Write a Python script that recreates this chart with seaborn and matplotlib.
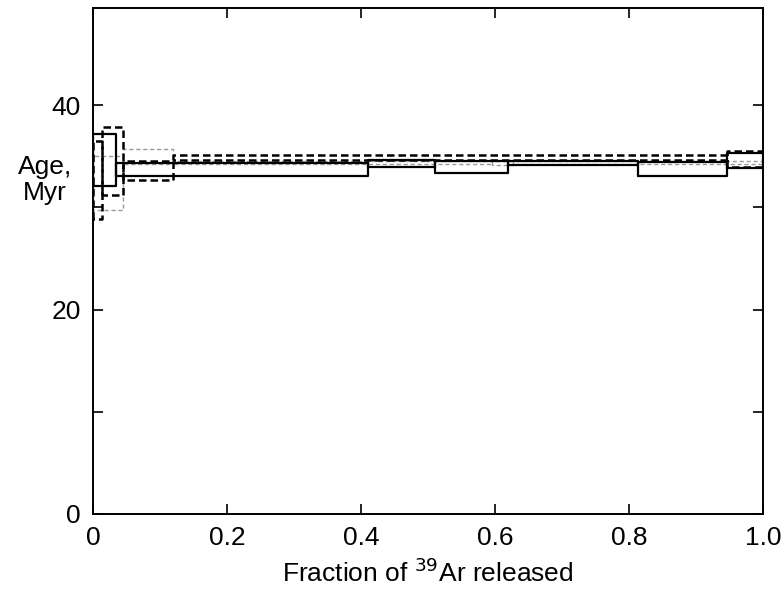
import numpy as np
import pandas as pd
import matplotlib
matplotlib.use("Agg")
import matplotlib.pyplot as plt
import seaborn as sns

# step edges (cumulative fraction of 39Ar) and age envelopes (Myr)
solid_edges = [0.0, 0.034, 0.41, 0.51, 0.62, 0.813, 0.946, 1.0]
solid_lo = [32.1, 33.1, 33.9, 33.4, 34.1, 33.1, 33.8]
solid_hi = [37.2, 34.3, 34.6, 34.5, 34.5, 34.4, 35.3]

dashed_edges = [0.0, 0.013, 0.045, 0.12, 0.946, 1.0]
dashed_lo = [28.9, 31.2, 32.7, 34.6, 33.9]
dashed_hi = [36.5, 37.9, 34.5, 35.1, 35.5]

thin_edges = [0.0, 0.045, 0.12, 0.595, 0.627, 1.0]
thin_lo = [29.7, 34.2, 34.2, 34.1, 34.2]
thin_hi = [35.0, 35.7, 34.5, 34.5, 34.5]

y_ticks = [0, 10, 20, 30, 40]
y_labels = ["0", "", "20", "", "40"]
x_ticks = [0, 0.2, 0.4, 0.6, 0.8, 1.0]
x_labels = ["0", "0.2", "0.4", "0.6", "0.8", "1.0"]


def boxes(edges, lo, hi):
    # one closed rectangle per heating step
    rows = []
    for k in range(len(lo)):
        x0, x1 = edges[k], edges[k + 1]
        for x, y in [(x0, lo[k]), (x0, hi[k]), (x1, hi[k]), (x1, lo[k]), (x0, lo[k])]:
            rows.append({"step": k, "fraction": x, "age": y})
    return pd.DataFrame(rows)


sns.set_style("ticks", {"text.color": "black", "axes.labelcolor": "black",
                        "xtick.color": "black", "ytick.color": "black",
                        "axes.edgecolor": "black"})
plt.rcParams["font.family"] = ["Liberation Sans Narrow", "Liberation Sans", "DejaVu Sans"]

fig = plt.figure(figsize=(7.83, 5.94), dpi=100)
ax = fig.add_axes([0.1188, 0.1347, 0.8557, 0.8518])

sns.lineplot(data=boxes(thin_edges, thin_lo, thin_hi), x="fraction", y="age",
             units="step", estimator=None, sort=False, color="#9a9a9a",
             linewidth=1.0, ax=ax, linestyle=(0, (3, 2)))
sns.lineplot(data=boxes(dashed_edges, dashed_lo, dashed_hi), x="fraction", y="age",
             units="step", estimator=None, sort=False, color="black",
             linewidth=1.8, ax=ax, linestyle=(0, (3, 1.6)))
sns.lineplot(data=boxes(solid_edges, solid_lo, solid_hi), x="fraction", y="age",
             units="step", estimator=None, sort=False, color="black",
             linewidth=1.6, ax=ax)

ax.set_xlim(0, 1.0)
ax.set_ylim(0, 49.5)
ax.set_xticks(x_ticks)
ax.set_xticklabels(x_labels)
ax.set_yticks(y_ticks)
ax.set_yticklabels(y_labels)
ax.tick_params(direction="in", top=True, right=True, length=7, width=1.2,
               labelsize=19, pad=9, colors="black")
for s in ax.spines.values():
    s.set_linewidth(1.4)

ax.set_xlabel("Fraction of $^{39}$Ar released", fontsize=19, labelpad=6,
              color="black")
ax.set_ylabel("")
ax.text(-0.072, 0.66, "Age,\nMyr", transform=ax.transAxes, ha="center",
        va="center", fontsize=19, linespacing=1.15, color="black")

fig.savefig("out.png", dpi=100)
